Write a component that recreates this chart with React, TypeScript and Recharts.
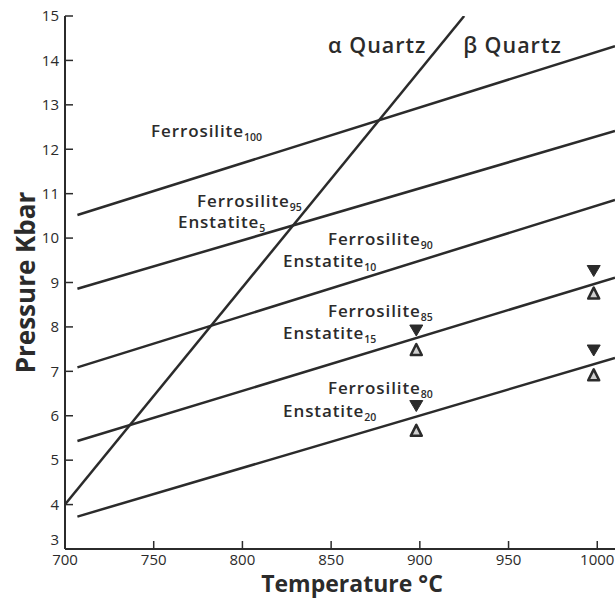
import { ComposedChart, Line, Scatter, XAxis, YAxis, ReferenceDot } from 'recharts';

// equilibrium lines, Ferrosilite/Enstatite compositions
const lineTemps = [707, 1010];
const fs100 = [10.52, 14.32];
const fs95 = [8.86, 12.41];
const fs90 = [7.09, 10.86];
const fs85 = [5.43, 9.11];
const fs80 = [3.73, 7.3];

// alpha / beta quartz transition
const quartzTemps = [700, 925];
const quartzPressures = [4.0, 15.0];

// experimental runs (reversal brackets)
const runTemps = [898, 898, 998, 998];
const runsDown = [7.93, 6.23, 9.27, 7.48];
const runsUp = [7.48, 5.66, 8.75, 6.91];

const xTicks = [700, 750, 800, 850, 900, 950, 1000];
const yTicks = [3, 4, 5, 6, 7, 8, 9, 10, 11, 12, 13, 14, 15];

const INK = '#2b2b2b';
const FONT = '"Open Sans", Lato, sans-serif';

const toPoints = (temps: number[], values: number[]) =>
  temps.map((t, i) => ({ t, p: values[i] }));

const series = [fs100, fs95, fs90, fs85, fs80];

// text annotations, anchored in data coordinates (start x, baseline)
const notes = [
  { text: 'Ferrosilite', sub: '100', t: 748.5, p: 12.27 },
  { text: 'Ferrosilite', sub: '95', t: 774.4, p: 10.7 },
  { text: 'Enstatite', sub: '5', t: 763.7, p: 10.23 },
  { text: 'Ferrosilite', sub: '90', t: 848.2, p: 9.84 },
  { text: 'Enstatite', sub: '10', t: 822.9, p: 9.35 },
  { text: 'Ferrosilite', sub: '85', t: 848.2, p: 8.22 },
  { text: 'Enstatite', sub: '15', t: 822.9, p: 7.72 },
  { text: 'Ferrosilite', sub: '80', t: 848.2, p: 6.5 },
  { text: 'Enstatite', sub: '20', t: 822.9, p: 5.98 },
];

const BottomTick = (props: any) => {
  const { x, y, payload } = props;
  return (
    <g>
      <line x1={x} y1={y} x2={x} y2={y - 8} stroke={INK} strokeWidth={1.5} />
      <text x={x} y={y + 5} dy="0.71em" textAnchor="middle" fill={INK} fontSize={15} fontFamily={FONT}>
        {payload.value}
      </text>
    </g>
  );
};

const LeftTick = (props: any) => {
  const { x, y, payload } = props;
  const shift = payload.value === 3 ? -9 : 0;
  return (
    <g>
      <line x1={x} y1={y} x2={x + 8} y2={y} stroke={INK} strokeWidth={1.5} />
      <text x={x - 6} y={y + shift} dy="0.35em" textAnchor="end" fill={INK} fontSize={15} fontFamily={FONT}>
        {payload.value}
      </text>
    </g>
  );
};

const TopTick = (props: any) => {
  const { x, y } = props;
  return <line x1={x} y1={y} x2={x} y2={y + 8} stroke={INK} strokeWidth={1.5} />;
};

const RightTick = (props: any) => {
  const { x, y } = props;
  return <line x1={x} y1={y} x2={x - 8} y2={y} stroke={INK} strokeWidth={1.5} />;
};

const DownTri = (props: any) => {
  const { cx, cy } = props;
  return (
    <polygon
      points={`${cx - 6.5},${cy - 5} ${cx + 6.5},${cy - 5} ${cx},${cy + 6}`}
      fill={INK}
      stroke={INK}
      strokeWidth={1}
    />
  );
};

const UpTri = (props: any) => {
  const { cx, cy } = props;
  return (
    <polygon
      points={`${cx - 5.5},${cy + 5} ${cx + 5.5},${cy + 5} ${cx},${cy - 6}`}
      fill="#cfcfcf"
      stroke={INK}
      strokeWidth={2.5}
      strokeLinejoin="round"
    />
  );
};

const Note = ({ vb, text, sub }: any) => (
  <text x={vb.x} y={vb.y} fill={INK} fontSize={17} fontFamily={FONT} fontWeight={600} letterSpacing={0.9}>
    {text}
    <tspan fontSize={10.5} dy={4} letterSpacing={0}>
      {sub}
    </tspan>
  </text>
);

const Title = ({ vb, text }: any) => (
  <text x={vb.x} y={vb.y} fill={INK} fontSize={21.5} fontFamily={FONT} fontWeight={600} letterSpacing={1}>
    {text}
  </text>
);

export default function App() {
  return (
    <div style={{ position: 'absolute', left: 0, top: 0, width: 616, height: 600, background: '#fff' }}>
      <ComposedChart width={616} height={600} margin={{ top: 16, right: 1, bottom: 21, left: 5 }}>
        <XAxis
          xAxisId={0}
          type="number"
          dataKey="t"
          domain={[700, 1010]}
          ticks={xTicks}
          interval={0}
          allowDataOverflow
          height={30}
          tickSize={0}
          tickMargin={0}
          tickLine={false}
          stroke={INK}
          strokeWidth={2}
          tick={<BottomTick />}
        />
        <XAxis
          xAxisId="top"
          orientation="top"
          type="number"
          dataKey="t"
          domain={[700, 1010]}
          ticks={xTicks.slice(1)}
          interval={0}
          height={0}
          tickSize={0}
          tickMargin={0}
          tickLine={false}
          tick={<TopTick />}
          stroke={INK}
          strokeWidth={2}
        />
        <YAxis
          yAxisId={0}
          type="number"
          dataKey="p"
          domain={[3, 15]}
          ticks={yTicks}
          interval={0}
          allowDataOverflow
          width={60}
          tickSize={0}
          tickMargin={0}
          tickLine={false}
          stroke={INK}
          strokeWidth={2}
          tick={<LeftTick />}
          label={{
            content: (props: any) => {
              const vb = props.viewBox;
              const cx = 25;
              const cy = vb.y + vb.height / 2;
              return (
                <text
                  x={cx}
                  y={cy}
                  transform={`rotate(-90 ${cx} ${cy})`}
                  textAnchor="middle"
                  dominantBaseline="central"
                  fill={INK}
                  fontSize={26}
                  fontWeight={700}
                  fontFamily={FONT}
                >
                  Pressure Kbar
                </text>
              );
            },
          }}
        />
        <YAxis
          yAxisId="right"
          orientation="right"
          type="number"
          domain={[3, 15]}
          ticks={yTicks.slice(1, -1)}
          interval={0}
          width={0}
          tickSize={0}
          tickMargin={0}
          tickLine={false}
          tick={<RightTick />}
          stroke={INK}
          strokeWidth={2}
        />

        {series.map((s, i) => (
          <Line
            key={`fs-${i}`}
            data={toPoints(lineTemps, s)}
            dataKey="p"
            stroke={INK}
            strokeWidth={2.5}
            dot={false}
            activeDot={false}
            isAnimationActive={false}
          />
        ))}
        <Line
          data={toPoints(quartzTemps, quartzPressures)}
          dataKey="p"
          stroke={INK}
          strokeWidth={2.5}
          dot={false}
          activeDot={false}
          isAnimationActive={false}
        />

        <Scatter data={toPoints(runTemps, runsDown)} dataKey="p" shape={DownTri} isAnimationActive={false} />
        <Scatter data={toPoints(runTemps, runsUp)} dataKey="p" shape={UpTri} isAnimationActive={false} />

        {notes.map((n, i) => (
          <ReferenceDot
            key={`note-${i}`}
            x={n.t}
            y={n.p}
            r={0}
            stroke="none"
            ifOverflow="visible"
            label={{ content: (props: any) => <Note vb={props.viewBox} text={n.text} sub={n.sub} /> }}
          />
        ))}

        <ReferenceDot
          x={848.3}
          y={14.17}
          r={0}
          stroke="none"
          ifOverflow="visible"
          label={{ content: (props: any) => <Title vb={props.viewBox} text="α Quartz" /> }}
        />
        <ReferenceDot
          x={924.4}
          y={14.17}
          r={0}
          stroke="none"
          ifOverflow="visible"
          label={{ content: (props: any) => <Title vb={props.viewBox} text="β Quartz" /> }}
        />
      </ComposedChart>
      <div
        style={{
          position: 'absolute',
          left: 0,
          top: 570,
          width: 704,
          textAlign: 'center',
          fontFamily: FONT,
          fontSize: 23,
          lineHeight: '26px',
          fontWeight: 700,
          color: INK,
        }}
      >
        Temperature °C
      </div>
    </div>
  );
}
